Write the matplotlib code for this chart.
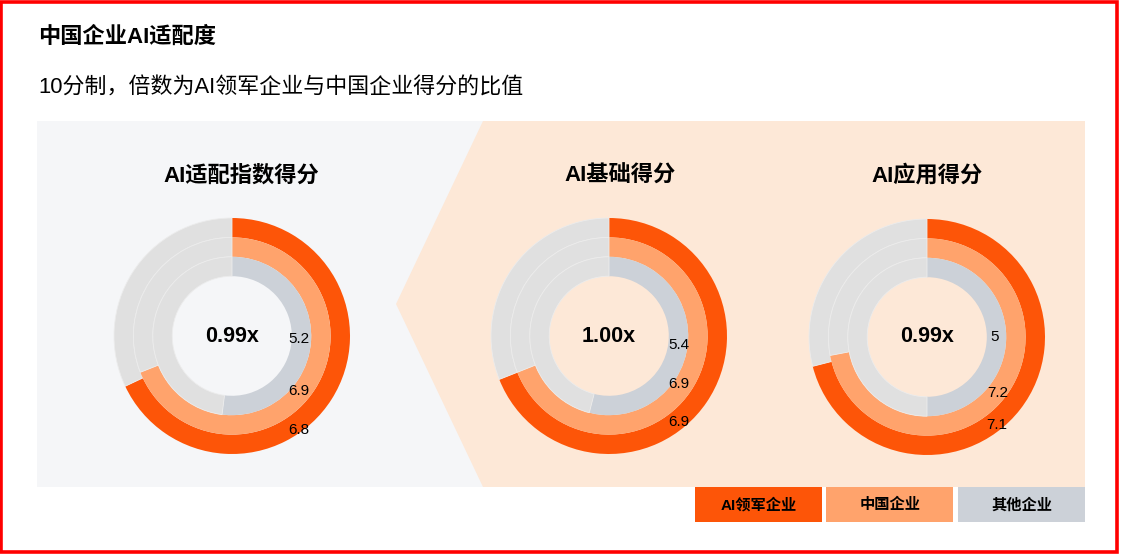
import matplotlib
matplotlib.use("Agg")
import matplotlib.pyplot as plt
from matplotlib.patches import Rectangle, Polygon

plt.rcParams['font.family'] = ['Liberation Sans', 'Noto Sans CJK SC']

# ---- data ----
panel_titles = ["AI适配指数得分", "AI基础得分", "AI应用得分"]
ratios = ["0.99x", "1.00x", "0.99x"]
series_names = ["AI领军企业", "中国企业", "其他企业"]
leader_scores = [6.8, 6.9, 7.1]
china_scores = [6.9, 6.9, 7.2]
other_scores = [5.2, 5.4, 5]
full_score = 10

# ---- style / layout ----
W, H = 1122, 555
c_leader = "#fd5508"
c_china = "#ffa36c"
c_other = "#ccd1d8"
c_rest = "#e0e0e0"
c_panel = "#f5f6f8"
c_peach = "#fde8d7"

centers = [(232, 336), (609, 336), (927, 337)]
title_pos = [(241, 176), (620, 176), (927, 176)]
R = 118
ring_w = 19.4
# label offsets (px) for [other, china, leader] per donut
label_off = [
    [(67, 3), (67, 55), (67, 94)],
    [(70, 9), (70, 48), (70, 86)],
    [(68, 0), (71, 56), (70, 88)],
]

fig = plt.figure(figsize=(W / 100, H / 100), dpi=100)
bg = fig.add_axes([0, 0, 1, 1])
bg.set_xlim(0, W)
bg.set_ylim(H, 0)
bg.axis('off')

# red frame
bg.add_patch(Rectangle((1.5, 1.5), W - 6, H - 5, fill=False, edgecolor='#ff0000', lw=2.6))

# panels
bg.add_patch(Rectangle((37, 121), 1048, 366, facecolor=c_panel, edgecolor='none'))
bg.add_patch(Polygon([(483, 121), (1085, 121), (1085, 487), (483, 487), (396, 304)],
                     closed=True, facecolor=c_peach, edgecolor='none'))

bg.text(38, 37, "中国企业AI适配度", fontsize=16, fontweight='bold', va='center', ha='left')
bg.text(38, 88, "10分制，倍数为AI领军企业与中国企业得分的比值", fontsize=15.8, va='center', ha='left')

# legend boxes
leg_colors = [c_leader, c_china, c_other]
for i, name in enumerate(series_names):
    x0 = 695 + i * 131.5
    bg.add_patch(Rectangle((x0, 487), 127, 35, facecolor=leg_colors[i], edgecolor='none'))
    bg.text(x0 + 63.5, 505, name, fontsize=11, fontweight='bold', ha='center', va='center')

for k in range(3):
    cx, cy = centers[k]
    bg.text(title_pos[k][0], title_pos[k][1], panel_titles[k], fontsize=16, fontweight='bold',
            ha='center', va='center')

    ax = fig.add_axes([(cx - R) / W, (H - cy - R) / H, 2 * R / W, 2 * R / H])
    ax.patch.set_alpha(0)

    rings = [leader_scores[k], china_scores[k], other_scores[k]]
    for j, (val, col) in enumerate(zip(rings, leg_colors)):
        radius = 1 - j * ring_w / R
        wedges, _ = ax.pie([val, full_score - val], colors=[col, c_rest], radius=radius,
                           startangle=90, counterclock=False,
                           wedgeprops=dict(width=ring_w / R, linewidth=0))
        # faint separator only on the grey remainder
        wedges[1].set_edgecolor("#ececec")
        wedges[1].set_linewidth(0.6)
    ax.set_xlim(-1, 1)
    ax.set_ylim(-1, 1)
    ax.set_aspect('equal')
    ax.axis('off')

    ax.text(0, 0, ratios[k], fontsize=15.5, fontweight='bold', ha='center', va='center')

    for j, val in enumerate([other_scores[k], china_scores[k], leader_scores[k]]):
        dx, dy = label_off[k][j]
        ax.text(dx / R, -dy / R, f"{val:g}", fontsize=11, ha='center', va='center')

fig.savefig("out.png", dpi=100)
